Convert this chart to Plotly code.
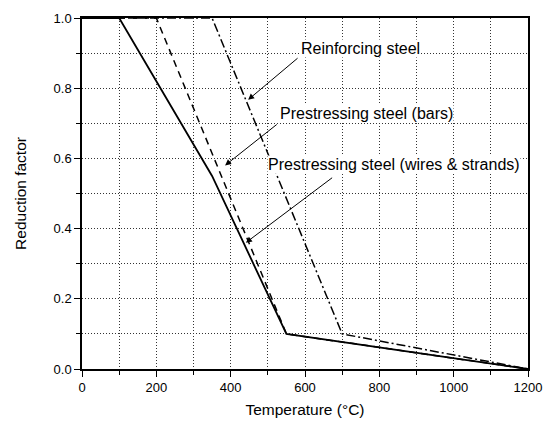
import plotly.graph_objects as go

# Data (EN 1992-1-2 style reference curves)
reinf_T = [0, 350, 700, 1200]
reinf_k = [1.0, 1.0, 0.1, 0.0]
bars_T = [0, 200, 550, 1200]
bars_k = [1.0, 1.0, 0.1, 0.0]
wires_T = [0, 100, 350, 550, 1200]
wires_k = [1.0, 1.0, 0.55, 0.1, 0.0]

labels = ["Reinforcing steel", "Prestressing steel (bars)", "Prestressing steel (wires & strands)"]
label_x = [587, 530, 498]
label_y = [0.914, 0.727, 0.582]
arrow_tail_x = [584, 528, 677]
arrow_tail_y = [0.889, 0.700, 0.548]
arrow_tip_x = [447, 385, 441]
arrow_tip_y = [0.767, 0.580, 0.360]

FONT = "Arial, Liberation Sans, sans-serif"
GRID = dict(showgrid=True, gridcolor="#333", griddash="1px,2px", gridwidth=1)

fig = go.Figure()
fig.add_trace(go.Scatter(x=wires_T, y=wires_k, mode="lines",
                         line=dict(color="black", width=1.8), name=labels[2]))
fig.add_trace(go.Scatter(x=bars_T, y=bars_k, mode="lines",
                         line=dict(color="black", width=1.5, dash="7px,5px"), name=labels[1]))
fig.add_trace(go.Scatter(x=reinf_T, y=reinf_k, mode="lines",
                         line=dict(color="black", width=1.5, dash="9px,3px,2px,3px"), name=labels[0]))

for i in range(3):
    fig.add_annotation(x=arrow_tip_x[i], y=arrow_tip_y[i], ax=arrow_tail_x[i], ay=arrow_tail_y[i],
                       xref="x", yref="y", axref="x", ayref="y", text="", showarrow=True,
                       arrowhead=2, arrowsize=1.2, arrowwidth=1, arrowcolor="black")
    fig.add_annotation(x=label_x[i], y=label_y[i], xref="x", yref="y", text=labels[i],
                       showarrow=False, xanchor="left", yanchor="middle",
                       bgcolor="white", borderpad=0,
                       font=dict(family=FONT, size=16, color="black"))

axis_common = dict(showline=True, linecolor="black", linewidth=1.5, mirror=True,
                   ticks="outside", ticklen=6, tickwidth=1.2, tickcolor="black",
                   zeroline=False, automargin=False,
                   tickfont=dict(family=FONT, size=13, color="black"), **GRID)

fig.update_xaxes(range=[0, 1200], dtick=200, tick0=0,
                 minor=dict(dtick=100, ticks="outside", ticklen=4, tickcolor="black", **GRID),
                 title=dict(text="Temperature (\u00b0C)", font=dict(family=FONT, size=15.5, color="black"),
                            standoff=10),
                 **axis_common)
fig.update_yaxes(range=[0, 1.0], dtick=0.2, tick0=0, tickformat=".1f",
                 minor=dict(dtick=0.1, ticks="outside", ticklen=4, tickcolor="black", **GRID),
                 title=dict(text="Reduction factor", font=dict(family=FONT, size=15.5, color="black"),
                            standoff=23),
                 **axis_common)

fig.update_layout(width=544, height=423, margin=dict(l=82, r=16, t=18, b=54),
                  paper_bgcolor="white", plot_bgcolor="white", showlegend=False,
                  font=dict(family=FONT, color="black"))

fig.write_html("out.html")
